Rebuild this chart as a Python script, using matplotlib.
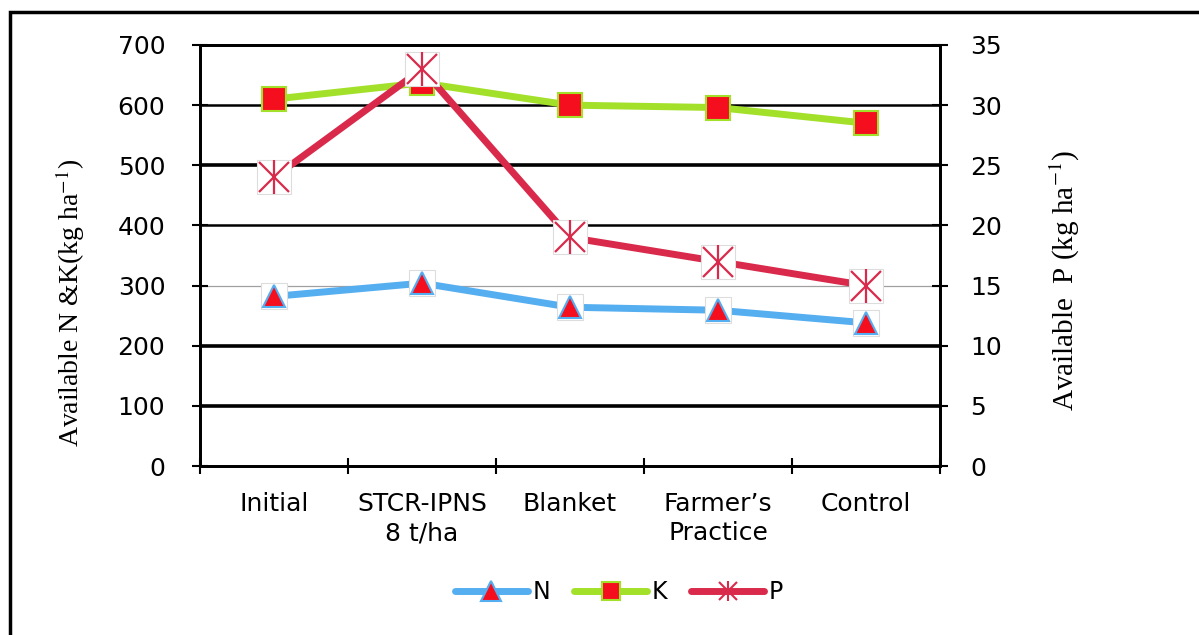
import matplotlib
matplotlib.use("Agg")
import matplotlib.pyplot as plt
from matplotlib.lines import Line2D
from matplotlib.patches import Rectangle

plt.rcParams["font.family"] = ["DejaVu Sans"]
plt.rcParams["mathtext.fontset"] = "stix"

categories = ["Initial", "STCR-IPNS\n8 t/ha", "Blanket", "Farmer\u2019s\nPractice", "Control"]
N_vals = [282, 304, 264, 259, 238]
K_vals = [610, 637, 600, 596, 570]
P_vals = [24, 33, 19, 17, 15]

blue = "#55aef0"
green = "#a3e02a"
red = "#d92a4b"
mred = "#f50f1e"

fig = plt.figure(figsize=(11.99, 6.35), dpi=100)
W, H = 1199, 635
ax = fig.add_axes([200 / W, 1 - 466 / H, 740 / W, 421 / H])
ax2 = ax.twinx()

x = list(range(len(categories)))

# gridlines
grid_styles = {100: (2.6, "black"), 200: (2.6, "black"), 300: (0.9, "#a0a0a0"),
               400: (1.8, "black"), 500: (2.6, "black"), 600: (1.8, "black")}
for yv, (lw, c) in grid_styles.items():
    ax.axhline(yv, color=c, lw=lw, zorder=1)

ax.plot(x, N_vals, color=blue, lw=5, zorder=3, solid_capstyle="round")
ax.plot(x, K_vals, color=green, lw=5, zorder=3, solid_capstyle="round")
ax.plot(x, N_vals, ls="none", marker="s", ms=19, mfc="white", mec="#dddddd", mew=0.8, zorder=4)
ax.plot(x, N_vals, ls="none", marker="^", ms=16, mfc=mred, mec=blue, mew=1.5, zorder=5)
ax.plot(x, K_vals, ls="none", marker="s", ms=17, mfc=mred, mec=green, mew=1.5, zorder=5)

ax2.plot(x, P_vals, color=red, lw=5, zorder=3, solid_capstyle="round")
ax2.plot(x, P_vals, ls="none", marker="s", ms=25, mfc="white", mec="#dddddd", mew=0.8, zorder=4)
ax2.plot(x, P_vals, ls="none", marker="x", ms=21, mec=red, mew=1.6, zorder=5)
ax2.plot(x, P_vals, ls="none", marker="|", ms=24, mec=red, mew=1.6, zorder=5)
ax2.set_zorder(ax.get_zorder() + 1)
ax2.patch.set_visible(False)

ax.set_xlim(-0.5, len(categories) - 0.5)
ax.set_ylim(0, 700)
ax2.set_ylim(0, 35)
ax.set_yticks(range(0, 701, 100))
ax2.set_yticks(range(0, 36, 5))
ax.set_xticks(x)
ax.set_xticklabels(categories, fontsize=18, linespacing=1.25)
ax.tick_params(axis="x", length=0, pad=19)
ax.set_xticks([i - 0.5 for i in range(len(categories) + 1)], minor=True)
ax.tick_params(axis="x", which="minor", length=12, width=1.5, direction="inout")

ax.tick_params(axis="y", labelsize=18, length=12, width=1.5, pad=19, direction="inout")
ax2.tick_params(axis="y", labelsize=18, length=12, width=1.5, pad=16, direction="inout")

for a in (ax, ax2):
    for s in a.spines.values():
        s.set_linewidth(2)
        s.set_color("black")

ax.set_ylabel("Available N &K(kg ha$^{-1}$)", family="Liberation Serif", fontsize=20)
ax.yaxis.set_label_coords(-0.153, 0.387)
ax2.set_ylabel("Available  P (kg ha$^{-1}$)", family="Liberation Serif", fontsize=21)
ax2.yaxis.set_label_coords(1.146, 0.442)

# legend
h_N = (Line2D([], [], color=blue, lw=5, solid_capstyle="round"),
       Line2D([], [], ls="none", marker="^", ms=14, mfc=mred, mec=blue, mew=1.5))
h_K = (Line2D([], [], color=green, lw=5, solid_capstyle="round"),
       Line2D([], [], ls="none", marker="s", ms=13, mfc=mred, mec=green, mew=1.5))
h_P = (Line2D([], [], color=red, lw=5, solid_capstyle="round"),
       Line2D([], [], ls="none", marker="x", ms=13, mec=red, mew=1.5),
       Line2D([], [], ls="none", marker="|", ms=15, mec=red, mew=1.5))
fig.legend([h_N, h_K, h_P], ["N", "K", "P"], loc="center",
           bbox_to_anchor=(619 / W, 1 - 592 / H), ncol=3, frameon=False,
           fontsize=17, handlelength=3.1, columnspacing=1.0, handletextpad=0.2)

# figure border
fig.patches.append(Rectangle((10 / W, -0.1), 1.2, (H - 12) / H + 0.1, transform=fig.transFigure,
                             fill=False, ec="black", lw=2.5))

fig.savefig("out.png", dpi=100)
